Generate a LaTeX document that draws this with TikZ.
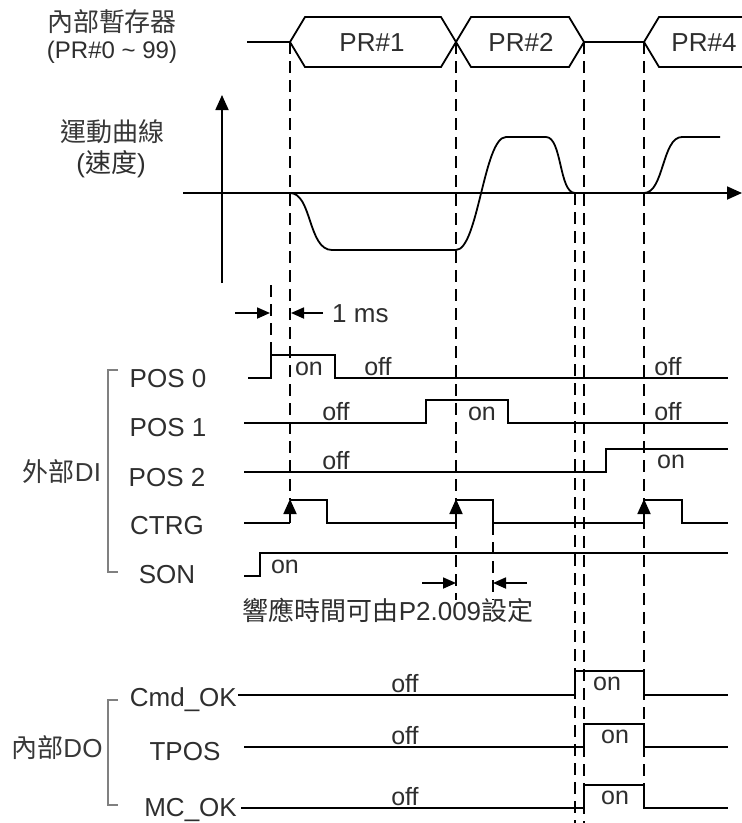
\documentclass[tikz,border=0pt]{standalone}
\usepackage{fontspec}
\setmainfont{Liberation Sans}
\newfontfamily\cjk{Noto Sans CJK TC}
\usetikzlibrary{arrows.meta}
\begin{document}
\begin{tikzpicture}[x=1pt,y=-1pt,
  sig/.style={line width=1.8pt,black,line join=miter},
  dsh/.style={line width=1.8pt,black,dash pattern=on 12pt off 7pt},
  brk/.style={line width=1.6pt,black!50},
  lbl/.style={font=\fontsize{26}{30}\selectfont,text=black!82,inner sep=0pt},
  clbl/.style={font=\cjk\fontsize{26}{30}\selectfont,text=black!78,inner sep=0pt},
  small/.style={font=\fontsize{25}{29}\selectfont,text=black!82,inner sep=0pt,anchor=base},
  axarrow/.style={-{Triangle[length=15pt,width=13pt]}},
  msarrow/.style={-{Triangle[length=13pt,width=11pt]}},
  trig/.style={-{Triangle[length=15pt,width=13pt]}}
]
\fill[white] (0,0) rectangle (742,823);
\useasboundingbox (0,0) rectangle (742,823);

% ---------- left titles ----------
\node[clbl] (reg) at (112,22) {內部暫存器};
\node[lbl,font=\fontsize{24}{28}\selectfont] (prr) at (112,52) {(PR\#0 \textasciitilde{} 99)};
\node[clbl] (mot) at (112,132) {運動曲線};
\node[lbl] (spd) at (111,164) {(\cjk 速度\rmfamily)};

% ---------- PR bus ----------
\draw[sig] (247,42) -- (290,42);
\draw[sig] (290,42) -- (305,17) -- (441,17) -- (456,42) -- (441,67) -- (305,67) -- cycle;
\draw[sig] (456,42) -- (471,17) -- (569,17) -- (584,42) -- (569,67) -- (471,67) -- cycle;
\draw[sig] (584,42) -- (644,42);
\draw[sig] (745,17) -- (659,17) -- (644,42) -- (659,67) -- (745,67);
\node[lbl,anchor=base] (pr1) at (372,51.3) {PR\#1};
\node[lbl,anchor=base] (pr2) at (521,51.3) {PR\#2};
\node[lbl,anchor=base] (pr4) at (704,51.3) {PR\#4};

% ---------- axes and motion curve ----------
\coordinate (vb) at (222,283);
\coordinate (vt) at (222,95);
\coordinate (hl) at (183,193);
\coordinate (hr) at (742,193);
\draw[sig,axarrow] (vb) -- (vt);
\draw[sig,axarrow] (hl) -- (hr);
\draw[sig,line join=round] (290,193) .. controls (312,193) and (308,250) .. (332,250) -- (456,250)
  .. controls (478,250) and (484,137) .. (506,137) -- (546,137)
  .. controls (562,137) and (559,193) .. (575,193) -- (644,193)
  .. controls (664,193) and (662,137) .. (682,137) -- (720,137);

% ---------- dashed guides ----------
\draw[dsh] (290,42) -- (290,500);
\draw[dsh] (271,285) -- (271,355);
\draw[dsh] (456,42) -- (456,600);
\draw[dsh] (493,523) -- (493,600);
\draw[dsh] (575,193) -- (575,823);
\draw[dsh] (584,42) -- (584,823);
\draw[dsh] (644,42) -- (644,785);

% ---------- 1 ms ----------
\coordinate (ms1) at (235,313);
\coordinate (ms2) at (270,313);
\coordinate (ms3) at (323,313);
\coordinate (ms4) at (291,313);
\draw[sig,msarrow] (ms1) -- (ms2);
\draw[sig,msarrow] (ms3) -- (ms4);
\node[lbl,anchor=base west] (ms) at (332,322) {1 ms};

% ---------- DI signals ----------
\node[lbl,anchor=base] (p0) at (168,387) {POS 0};
\node[lbl,anchor=base] (p1) at (168,436) {POS 1};
\node[lbl,anchor=base] (p2) at (167,486) {POS 2};
\node[lbl,anchor=base] (ct) at (167,534) {CTRG};
\node[lbl,anchor=base] (so) at (167,583) {SON};

\draw[sig] (248,378) -- (271,378) -- (271,355) -- (335,355) -- (335,378) -- (728,378);
\node[small] (p0on) at (309,375) {on};
\node[small] (p0off) at (378,375) {off};
\node[small] (p0off2) at (668,375) {off};

\draw[sig] (244,423) -- (426,423) -- (426,400) -- (508,400) -- (508,423) -- (728,423);
\node[small] (p1off) at (336,420) {off};
\node[small] (p1on) at (482,420) {on};
\node[small] (p1off2) at (668,420) {off};

\draw[sig] (244,472) -- (606,472) -- (606,449) -- (728,449);
\node[small] (p2off) at (336,469) {off};
\node[small] (p2on) at (671,468) {on};

\draw[sig] (244,523) -- (290,523) (290,500) -- (327,500) -- (327,523) -- (456,523)
  (456,500) -- (493,500) -- (493,523) -- (644,523) (644,500) -- (682,500) -- (682,523) -- (728,523);
\draw[sig,trig] (290,523) -- (290,499);
\draw[sig,trig] (456,523) -- (456,499);
\draw[sig,trig] (644,523) -- (644,499);

\draw[sig] (244,576) -- (260,576) -- (260,553) -- (728,553);
\node[small] (sonon) at (285,573) {on};

% response time
\coordinate (r1) at (422,583);
\coordinate (r2) at (456,583);
\coordinate (r3) at (527,583);
\coordinate (r4) at (493,583);
\draw[sig,msarrow] (r1) -- (r2);
\draw[sig,msarrow] (r3) -- (r4);
\node[lbl] (resp) at (388,610) {{\cjk\fontsize{26}{30}\selectfont 響應時間可由}P2.009{\cjk\fontsize{26}{30}\selectfont 設定}};

% DI bracket
\draw[brk] (118,370) -- (108,370) -- (108,572) -- (118,572);
\node[clbl] (di) at (62,472) {外部\rmfamily DI};

% ---------- DO signals ----------
\node[lbl,anchor=base east] (cmd) at (237,706) {Cmd\_OK};
\node[lbl,anchor=base] (tpos) at (185,760) {TPOS};
\node[lbl,anchor=base east] (mc) at (237,816) {MC\_OK};

\draw[sig] (238,695) -- (575,695) -- (575,671) -- (644,671) -- (644,695) -- (728,695);
\node[small] (cmdoff) at (405,692) {off};
\node[small] (cmdon) at (607,690) {on};

\draw[sig] (244,747) -- (584,747) -- (584,724) -- (644,724) -- (644,747) -- (728,747);
\node[small] (tposoff) at (405,744) {off};
\node[small] (tposon) at (615,743) {on};

\draw[sig] (241,808) -- (584,808) -- (584,785) -- (644,785) -- (644,808) -- (728,808);
\node[small] (mcoff) at (405,805) {off};
\node[small] (mcon) at (615,804) {on};

% DO bracket
\draw[brk] (118,700) -- (108,700) -- (108,805) -- (118,805);
\node[clbl] (do) at (57,748) {內部\rmfamily DO};
\end{tikzpicture}
\end{document}
